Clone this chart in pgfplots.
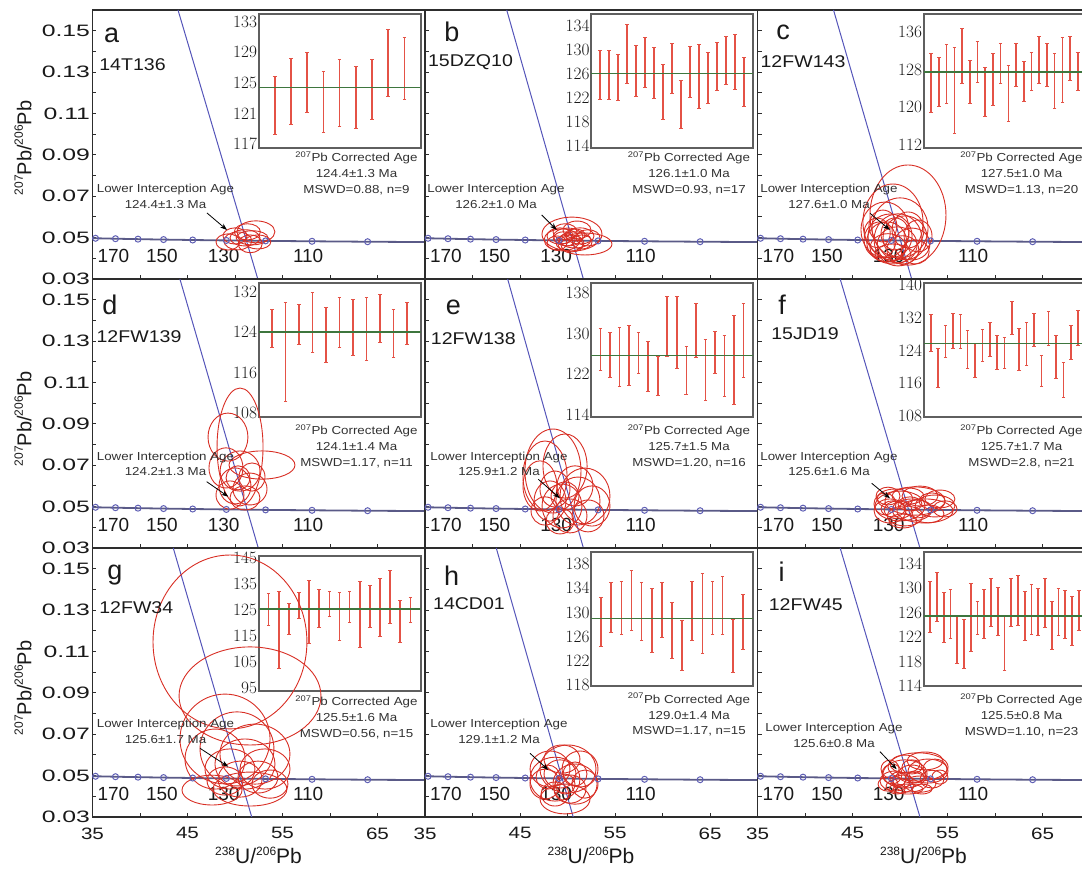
\documentclass[border=0pt]{standalone}
\usepackage{fontspec}
\setmainfont{Liberation Sans}
\newfontfamily\sfs[FakeStretch=1.15]{Liberation Sans}
\newfontfamily\yfs[FakeStretch=1.5]{Liberation Sans}
\newfontfamily\xfs[FakeStretch=1.25]{Liberation Sans}
\usepackage{pgfplots}
\pgfplotsset{compat=1.18}
\usetikzlibrary{arrows.meta}

\definecolor{ellred}{RGB}{216,46,36}
\definecolor{barred}{RGB}{228,82,70}
\definecolor{meangreen}{RGB}{62,118,62}
\definecolor{concl}{RGB}{90,90,135}
\definecolor{markc}{RGB}{95,95,180}
\definecolor{discl}{RGB}{85,85,185}
\definecolor{framec}{RGB}{45,45,45}
\definecolor{insetframe}{RGB}{95,95,95}
\definecolor{txt}{RGB}{25,25,25}
\definecolor{stxt}{RGB}{50,50,50}

\newcommand\fsz[1]{\fontsize{#1}{#1}\selectfont}
\newcommand\sups[1]{\raisebox{0.42em}{\fsz{12}#1}}

\pgfdeclareplotmark{ell}{%
  \pgfpathellipse{\pgfpointorigin}{\pgfpoint{\ellrx*9.5pt}{0pt}}{\pgfpoint{0pt}{\ellry*2069.2pt}}%
  \pgfusepathqstroke}

\pgfplotsset{
  tw/.style={scale only axis, width=332.5pt, height=269pt, anchor=south west,
    xmin=35, xmax=70, ymin=0.03, ymax=0.16,
    axis line style={draw=framec, line width=1.8pt},
    xtick={35,45,55,65}, minor xtick={40,50,60,70},
    ytick={0.03,0.05,0.07,0.09,0.11,0.13,0.15},
    minor ytick={0.04,0.06,0.08,0.10,0.12,0.14},
    scaled y ticks=false, scaled x ticks=false,
    tick pos=left, tick align=inside,
    major tick length=4pt, minor tick length=4pt,
    every tick/.style={draw=framec, line width=1pt},
    /pgf/number format/assume math mode=true,
    yticklabel style={/pgf/number format/fixed, /pgf/number format/fixed zerofill, /pgf/number format/precision=2},
    y tick label style={font=\yfs\fsz{16.5}, text=txt, xshift=1pt},
    x tick label style={font=\xfs\fsz{16.5}, text=txt, yshift=-7pt},
  },
  noxl/.style={xticklabels={}},
  noyl/.style={yticklabels={}},
  ells/.style={only marks, scatter, mark=ell,
    mark options={draw=ellred, line width=0.9pt},
    scatter/@pre marker code/.code={\pgfscope},
    scatter/@post marker code/.code={\endpgfscope},
    visualization depends on={value \thisrow{rx}\as\ellrx},
    visualization depends on={value \thisrow{ry}\as\ellry}},
  disc/.style={discl, line width=1pt},
  inset/.style={scale only axis, width=162pt, height=134.5pt, anchor=south west,
    xmin=0, axis line style={draw=insetframe, line width=2pt},
    xtick=\empty, tick pos=left, major tick length=0pt,
    y tick label style={font=\sfs\fsz{18.5}, text=txt, xshift=2pt},
  },
  bars/.style={draw=none, mark=none, forget plot,
    error bars/.cd, y dir=both, y explicit,
    error bar style={draw=barred, line width=1.6pt},
    error mark options={draw=barred, line width=1pt, mark size=1.8pt, rotate=90}},
  meanline/.style={meangreen, line width=1.5pt},
}

\newcommand\concordia{%
  \addplot[concl, line width=1.8pt, mark=o, mark size=3pt, mark options={draw=markc, fill=white, line width=1pt, solid}]
    coordinates {(33.43,0.04989)(35.32,0.04968)(37.42,0.04947)(39.79,0.04925)(42.48,0.04905)(45.55,0.04884)(49.09,0.04863)(53.22,0.04842)(58.11,0.04822)(63.96,0.04801)(71.13,0.04781)};
  \node[font=\fsz{19}, text=txt] at (axis cs:37.2,0.0413) {170};
  \node[font=\fsz{19}, text=txt] at (axis cs:42.3,0.0413) {150};
  \node[font=\fsz{19}, text=txt] at (axis cs:48.8,0.0413) {130};
  \node[font=\fsz{19}, text=txt] at (axis cs:57.7,0.0413) {110};
}

% #1 letter #2 lx #3 lbase #4 ID #5 idx #6 idy #7 LIA value #8 CA value #9 MSWD
\newcommand\ptext[9]{%
  \node[anchor=base, font=\fsz{27}, text=txt] at (\PX+#2,\PY-#3) {#1};
  \node[font=\sfs\fsz{17}, text=txt] at (\PX+#5,\PY-#6) {#4};
  \node[font=\sfs\fsz{11.6}, text=stxt, inner sep=0pt] at (\PX+\LX,\PY-\LY) {Lower Interception Age};
  \node[font=\sfs\fsz{11.6}, text=stxt, inner sep=0pt] at (\PX+\LX,\PY-\LY-14.5) {#7};
  \node[font=\sfs\fsz{11.6}, text=stxt, inner sep=0pt] at (\PX+264,\PY-\CA) {\textsuperscript{207}Pb Corrected Age};
  \node[font=\sfs\fsz{11.6}, text=stxt, inner sep=0pt] at (\PX+264,\PY-\CA-16) {#8};
  \node[font=\sfs\fsz{11.6}, text=stxt, inner sep=0pt] at (\PX+264,\PY-\CA-32) {#9};
}
\newcommand\parrow[4]{\draw[-{Stealth[length=7pt,width=5pt]}, line width=0.8pt, black] (\PX+#1,\PY-#2) -- (\PX+#3,\PY-#4);}

\begin{document}
\begin{tikzpicture}[x=1pt,y=1pt]

% ================= panel a
\def\PX{92.5}\def\PY{860}
\begin{axis}[inset, at={(258.5pt,721.5pt)}, xmax=10, ymin=116.45, ymax=134.0, ytick={117,121,125,129,133}]
\addplot[bars] table[x=i, y expr={(\thisrow{t}+\thisrow{b})/2}, y error expr={(\thisrow{t}-\thisrow{b})/2}] {
i t b
1 125.85 118.24
2 128.2 119.6
3 129.0 121.2
4 126.5 118.5
5 128.0 119.3
6 127.1 119.1
7 128.0 120.2
8 132.0 123.3
9 130.9 122.8
};
\addplot[meanline] coordinates {(0,124.4)(10,124.4)};
\end{axis}
\begin{axis}[tw, noxl, at={(92.5pt,591pt)}]
\addplot[ells] table {
x y rx ry
52.2 0.0528 2.0 0.0053
50.3 0.0484 1.47 0.0043
51.05 0.0499 1.58 0.0039
51.6 0.0470 1.26 0.0043
49.26 0.0479 1.26 0.0039
51.8 0.0499 1.68 0.0034
50.0 0.0508 1.26 0.0039
52.4 0.0479 1.37 0.0034
51.3 0.0528 1.37 0.0039
};
\addplot[disc] coordinates {(44.0,0.16)(52.4,0.03)};
\concordia
\end{axis}
\def\LX{73}\def\LY{180}\def\CA{148}
\ptext{a}{19.2}{32.7}{14T136}{40}{55}{124.4±1.3 Ma}{124.4±1.3 Ma}{MSWD=0.88, n=9}
\parrow{114.5}{203}{134.5}{220}

% ================= panel b
\def\PX{425}\def\PY{860}
\begin{axis}[inset, at={(591pt,721.5pt)}, xmax=18, ymin=113.6, ymax=136.0, ytick={114,118,122,126,130,134}]
\addplot[bars] table[x=i, y expr={(\thisrow{t}+\thisrow{b})/2}, y error expr={(\thisrow{t}-\thisrow{b})/2}] {
i t b
1 129.9 121.7
2 130.0 121.8
3 129.3 121.6
4 134.3 124.4
5 130.8 122.3
6 132.1 123.8
7 130.4 121.9
8 127.6 118.4
9 131.1 122.7
10 125.0 116.9
11 130.6 122.1
12 130.9 120.2
13 129.6 121.1
14 131.2 123.3
15 132.2 124.2
16 132.6 123.4
17 128.8 120.6
};
\addplot[meanline] coordinates {(0,126.1)(18,126.1)};
\end{axis}
\begin{axis}[tw, noxl, noyl, at={(425pt,591pt)}]
\addplot[ells] table {
x y rx ry
50.47 0.0517 3.16 0.0082
51.84 0.0469 2.84 0.0053
49.42 0.0489 1.89 0.0053
50.05 0.0503 1.58 0.0043
50.79 0.0489 1.68 0.0039
49.21 0.0508 1.37 0.0039
51.32 0.0508 1.47 0.0039
50.26 0.0474 1.47 0.0039
49.74 0.0528 1.26 0.0039
51.0 0.0537 1.47 0.0043
48.9 0.0474 1.05 0.0034
52.16 0.0499 1.26 0.0039
50.47 0.0465 1.16 0.0034
49.53 0.0499 0.95 0.0029
51.53 0.0479 1.05 0.0034
49.95 0.0489 0.84 0.0029
50.79 0.0513 1.05 0.0029
};
\addplot[disc] coordinates {(43.6,0.16)(51.67,0.03)};
\concordia
\end{axis}
\def\LX{71}\def\LY{180}\def\CA{148}
\ptext{b}{27}{31.7}{15DZQ10}{45.5}{51.7}{126.2±1.0 Ma}{126.1±1.0 Ma}{MSWD=0.93, n=17}
\parrow{116.7}{205}{131.7}{220}

% ================= panel c
\def\PX{757.5}\def\PY{860}
\begin{axis}[inset, at={(923.5pt,721.5pt)}, xmax=21, ymin=111.25, ymax=139.9, ytick={112,120,128,136}]
\addplot[bars] table[x=i, y expr={(\thisrow{t}+\thisrow{b})/2}, y error expr={(\thisrow{t}-\thisrow{b})/2}] {
i t b
1 131.5 118.9
2 130.6 120.3
3 133.5 120.9
4 132.8 114.5
5 136.9 125.0
6 130.1 120.9
7 134.0 125.3
8 128.6 118.1
9 131.5 120.5
10 133.6 125.0
11 128.9 116.9
12 133.6 124.4
13 129.8 121.2
14 131.8 123.5
15 135.2 125.0
16 133.6 124.5
17 131.5 119.8
18 134.9 121.0
19 135.2 125.7
20 131.7 123.7
};
\addplot[meanline] coordinates {(0,127.5)(21,127.5)};
\end{axis}
\begin{axis}[tw, noxl, noyl, at={(757.5pt,591pt)}]
\addplot[ells] table {
x y rx ry
50.84 0.0609 4.0 0.0242
49.26 0.0575 3.16 0.0184
48.42 0.0537 2.53 0.0135
50.0 0.0547 2.95 0.0145
48.95 0.0508 2.32 0.0106
50.53 0.0499 2.32 0.0106
47.9 0.0489 1.68 0.0087
49.7 0.0465 2.1 0.0087
51.26 0.0469 1.89 0.0077
48.74 0.0451 1.89 0.0068
50.3 0.0441 1.68 0.0068
49.47 0.0518 1.47 0.0077
51.9 0.0508 1.47 0.0077
48.2 0.0556 1.47 0.0077
50.84 0.0537 1.68 0.0087
47.6 0.0523 1.37 0.0072
49.26 0.0421 1.89 0.0048
51.6 0.0431 1.47 0.0058
49.8 0.0489 2.53 0.0126
48.6 0.0479 2.1 0.0097
};
\addplot[disc] coordinates {(43.0,0.16)(51.23,0.03)};
\concordia
\end{axis}
\def\LX{71.5}\def\LY{180}\def\CA{148}
\ptext{c}{25.5}{30}{12FW143}{45.5}{51.7}{127.6±1.0 Ma}{127.5±1.0 Ma}{MSWD=1.13, n=20}
\parrow{112.5}{203.3}{132.5}{220}

% ================= panel d
\def\PX{92.5}\def\PY{591}
\begin{axis}[inset, at={(258.5pt,452.5pt)}, xmax=12, ymin=107.1, ymax=133.8, ytick={108,116,124,132}]
\addplot[bars] table[x=i, y expr={(\thisrow{t}+\thisrow{b})/2}, y error expr={(\thisrow{t}-\thisrow{b})/2}] {
i t b
1 128.5 121.0
2 130.0 110.2
3 129.5 121.5
4 132.0 120.0
5 129.0 118.0
6 131.0 121.0
7 130.5 119.5
8 131.0 118.5
9 131.5 122.0
10 128.5 119.0
11 130.0 121.5
};
\addplot[meanline] coordinates {(0,124.1)(12,124.1)};
\end{axis}
\begin{axis}[tw, noxl, at={(92.5pt,322pt)}]
\addplot[ells] table {
x y rx ry
50.53 0.0788 2.42 0.0285
49.26 0.0836 2.1 0.0116
52.84 0.0701 3.47 0.0068
49.05 0.0687 1.79 0.0097
50.53 0.0672 2.1 0.0097
50.0 0.0600 1.68 0.0087
51.58 0.0585 1.79 0.0077
49.47 0.0556 1.47 0.0068
51.05 0.0542 1.58 0.0058
50.32 0.0639 1.26 0.0058
51.79 0.0643 1.37 0.0068
};
\addplot[disc] coordinates {(44.2,0.16)(52.45,0.03)};
\concordia
\end{axis}
\def\LX{73}\def\LY{178.5}\def\CA{152}
\ptext{d}{17.5}{36}{12FW139}{46.5}{58}{124.2±1.3 Ma}{124.1±1.4 Ma}{MSWD=1.17, n=11}
\parrow{114.2}{202.7}{135.8}{217.7}

% ================= panel e
\def\PX{425}\def\PY{591}
\begin{axis}[inset, at={(591pt,452.5pt)}, xmax=17, ymin=113.5, ymax=140.0, ytick={114,122,130,138}]
\addplot[bars] table[x=i, y expr={(\thisrow{t}+\thisrow{b})/2}, y error expr={(\thisrow{t}-\thisrow{b})/2}] {
i t b
1 131.0 122.8
2 130.3 121.3
3 131.3 119.6
4 131.6 119.9
5 130.3 122.1
6 128.4 118.7
7 125.6 117.8
8 137.3 125.6
9 137.3 123.2
10 127.4 118.1
11 136.0 125.3
12 128.8 116.9
13 130.5 122.2
14 129.7 117.6
15 133.6 116.0
16 136.0 121.3
};
\addplot[meanline] coordinates {(0,125.7)(17,125.7)};
\end{axis}
\begin{axis}[tw, noxl, noyl, at={(425pt,322pt)}]
\addplot[ells] table {
x y rx ry
48.47 0.0672 2.95 0.0203
47.63 0.0648 2.32 0.0169
49.74 0.0696 2.32 0.0155
47.1 0.0600 1.79 0.0121
51.84 0.0551 2.63 0.0135
51.1 0.0527 2.32 0.0116
49.42 0.0503 2.1 0.0106
52.58 0.0503 1.89 0.0097
48.16 0.0527 1.68 0.0097
50.26 0.0455 1.79 0.0082
48.68 0.0585 1.58 0.0087
50.79 0.0600 1.89 0.0097
49.74 0.0551 1.47 0.0068
47.63 0.0479 1.47 0.0068
52.16 0.0455 1.68 0.0077
49.21 0.0431 1.47 0.0063
};
\addplot[disc] coordinates {(43.7,0.16)(51.67,0.03)};
\concordia
\end{axis}
\def\LX{74}\def\LY{178.5}\def\CA{152}
\ptext{e}{28.3}{36}{12FW138}{48.3}{59.3}{125.9±1.2 Ma}{125.7±1.5 Ma}{MSWD=1.20, n=16}
\parrow{113.3}{200.3}{135}{219.3}

% ================= panel f
\def\PX{757.5}\def\PY{591}
\begin{axis}[inset, at={(923.5pt,452.5pt)}, xmax=22, ymin=107.6, ymax=140.5, ytick={108,116,124,132,140}]
\addplot[bars] table[x=i, y expr={(\thisrow{t}+\thisrow{b})/2}, y error expr={(\thisrow{t}-\thisrow{b})/2}] {
i t b
1 132.8 123.8
2 124.4 114.9
3 130.0 122.2
4 133.1 124.5
5 132.8 124.5
6 129.0 119.7
7 125.6 117.4
8 129.2 121.3
9 130.8 122.6
10 127.7 119.3
11 127.1 119.7
12 136.0 127.9
13 129.3 119.0
14 130.8 120.3
15 133.0 124.9
16 122.7 115.1
17 133.6 125.2
18 127.7 117.2
19 121.0 112.6
20 130.0 121.9
21 133.7 125.3
};
\addplot[meanline] coordinates {(0,125.7)(22,125.7)};
\end{axis}
\begin{axis}[tw, noxl, noyl, at={(757.5pt,322pt)}]
\addplot[ells] table {
x y rx ry
51.58 0.0527 3.16 0.0068
52.63 0.0479 2.95 0.0058
50.0 0.0503 2.63 0.0072
48.95 0.0479 1.68 0.0058
53.68 0.0503 2.1 0.0053
50.53 0.0455 1.89 0.0048
49.47 0.0537 1.89 0.0048
51.9 0.0489 1.47 0.0043
50.84 0.0551 1.68 0.0039
54.2 0.0537 1.58 0.0043
48.42 0.0513 1.16 0.0053
51.26 0.0484 2.1 0.0053
52.95 0.0465 1.68 0.0043
49.79 0.0484 1.47 0.0043
54.74 0.0489 1.26 0.0039
52.1 0.0551 1.89 0.0048
49.26 0.0489 1.26 0.0039
51.05 0.0513 1.26 0.0034
53.37 0.0527 1.37 0.0039
50.32 0.0431 1.47 0.0034
48.74 0.0551 1.26 0.0043
};
\addplot[disc] coordinates {(43.7,0.16)(52.1,0.03)};
\concordia
\end{axis}
\def\LX{71.5}\def\LY{178.5}\def\CA{152}
\ptext{f}{24.5}{36}{15JD19}{47.5}{54.3}{125.6±1.6 Ma}{125.7±1.7 Ma}{MSWD=2.8, n=21}
\parrow{114.2}{204.3}{132.5}{219.3}

% ================= panel g
\def\PX{92.5}\def\PY{322}
\begin{axis}[inset, at={(258.5pt,179pt)}, xmax=16, ymin=94.0, ymax=145.7, ytick={95,105,115,125,135,145}]
\addplot[bars] table[x=i, y expr={(\thisrow{t}+\thisrow{b})/2}, y error expr={(\thisrow{t}-\thisrow{b})/2}] {
i t b
1 131.3 119.1
2 132.1 102.6
3 127.5 115.6
4 131.7 122.0
5 136.4 112.3
6 133.0 118.4
7 132.3 122.8
8 131.7 113.6
9 132.3 120.3
10 136.1 110.8
11 134.6 118.4
12 137.2 114.9
13 140.2 119.9
14 128.8 112.7
15 130.1 120.3
};
\addplot[meanline] coordinates {(0,125.5)(16,125.5)};
\end{axis}
\begin{axis}[tw, at={(92.5pt,53pt)}]
\addplot[ells] table {
x y rx ry
49.47 0.1146 8.1 0.042
51.58 0.0885 7.47 0.0237
48.95 0.0677 4.74 0.0217
50.21 0.0629 3.89 0.0179
52.1 0.0604 3.68 0.0145
47.9 0.0580 3.16 0.0145
51.05 0.0556 3.16 0.0121
53.16 0.0532 2.63 0.0097
49.47 0.0532 2.63 0.0097
47.58 0.0430 3.16 0.0072
51.58 0.0435 3.89 0.0082
50.53 0.0483 2.32 0.0087
52.42 0.0493 2.1 0.0077
48.95 0.0474 1.89 0.0068
53.68 0.0459 1.89 0.0068
};
\addplot[disc] coordinates {(43.5,0.16)(51.76,0.03)};
\concordia
\end{axis}
\def\LX{73}\def\LY{177}\def\CA{153.7}
\ptext{g}{22.5}{32}{12FW34}{43.8}{59.7}{125.6±1.7 Ma}{125.5±1.6 Ma}{MSWD=0.56, n=15}
\parrow{107.5}{200.3}{135.8}{218.7}

% ================= panel h
\def\PX{425}\def\PY{322}
\begin{axis}[inset, at={(591pt,183.5pt)}, xmax=16, ymin=117.75, ymax=140.0, ytick={118,122,126,130,134,138}]
\addplot[bars] table[x=i, y expr={(\thisrow{t}+\thisrow{b})/2}, y error expr={(\thisrow{t}-\thisrow{b})/2}] {
i t b
1 132.5 124.4
2 134.9 126.6
3 135.1 126.4
4 137.0 127.0
5 134.9 125.4
6 133.9 123.4
7 135.0 125.9
8 131.7 122.4
9 128.6 120.4
10 135.2 125.4
11 136.5 123.2
12 135.1 126.4
13 135.9 126.4
14 128.8 120.1
15 132.9 123.9
};
\addplot[meanline] coordinates {(0,129.0)(16,129.0)};
\end{axis}
\begin{axis}[tw, noyl, at={(425pt,53pt)}]
\addplot[ells] table {
x y rx ry
50.05 0.0532 2.95 0.0116
48.68 0.0483 2.63 0.0106
50.79 0.0459 2.32 0.0097
48.16 0.0532 2.1 0.0087
49.74 0.0387 2.63 0.0072
51.32 0.0532 1.89 0.0087
47.63 0.0459 1.58 0.0072
49.21 0.0508 1.68 0.0068
50.26 0.0435 1.68 0.0068
51.84 0.0459 1.37 0.0068
48.68 0.0411 1.47 0.0058
49.42 0.0580 1.89 0.0068
50.79 0.0508 1.26 0.0058
47.95 0.0493 1.26 0.0058
49.74 0.0459 1.05 0.0048
};
\addplot[disc] coordinates {(42.5,0.16)(50.6,0.03)};
\concordia
\end{axis}
\def\LX{74}\def\LY{177}\def\CA{151.3}
\ptext{h}{26.7}{37.7}{14CD01}{44}{55.3}{129.1±1.2 Ma}{129.0±1.4 Ma}{MSWD=1.17, n=15}
\parrow{105}{205.3}{123.3}{222}

% ================= panel i
\def\PX{757.5}\def\PY{322}
\begin{axis}[inset, at={(923.5pt,183.5pt)}, xmax=24, ymin=113.9, ymax=135.97, ytick={114,118,122,126,130,134}]
\addplot[bars] table[x=i, y expr={(\thisrow{t}+\thisrow{b})/2}, y error expr={(\thisrow{t}-\thisrow{b})/2}] {
i t b
1 131.2 122.8
2 132.6 124.6
3 129.4 121.1
4 129.8 121.8
5 125.5 117.6
6 124.9 116.9
7 130.8 119.6
8 127.8 122.5
9 129.8 121.8
10 131.6 123.8
11 130.1 122.2
12 125.5 116.6
13 131.7 123.8
14 132.1 123.9
15 129.5 121.5
16 130.6 122.5
17 129.9 122.3
18 131.7 123.6
19 127.9 120.0
20 129.9 122.3
21 129.7 121.7
22 128.7 120.6
23 129.7 123.1
};
\addplot[meanline] coordinates {(0,125.5)(24,125.5)};
\end{axis}
\begin{axis}[tw, noyl, at={(757.5pt,53pt)}]
\addplot[ells] table {
x y rx ry
51.9 0.0542 3.16 0.0068
52.95 0.0522 2.1 0.0058
50.53 0.0508 2.32 0.0068
49.47 0.0474 1.58 0.0048
51.05 0.0469 1.89 0.0048
50.0 0.0450 1.47 0.0034
52.1 0.0459 1.68 0.0039
51.26 0.0508 1.47 0.0043
49.16 0.0508 1.05 0.0048
53.37 0.0483 1.26 0.0043
50.53 0.0556 1.58 0.0043
52.63 0.0571 1.89 0.0043
48.74 0.0459 1.05 0.0034
50.84 0.0435 1.58 0.0024
49.79 0.0483 0.84 0.0034
51.58 0.0493 0.95 0.0029
53.68 0.0532 1.26 0.0048
48.95 0.0532 0.95 0.0043
50.32 0.0474 1.05 0.0029
52.32 0.0435 1.05 0.0024
51.26 0.0542 1.05 0.0034
49.68 0.0435 0.84 0.0024
54.2 0.0493 0.84 0.0034
};
\addplot[disc] coordinates {(43.7,0.16)(52.1,0.03)};
\concordia
\end{axis}
\def\LX{76.5}\def\LY{181}\def\CA{152}
\ptext{i}{24}{33.7}{12FW45}{48.3}{57}{125.6±0.8 Ma}{125.5±0.8 Ma}{MSWD=1.10, n=23}
\parrow{122.5}{203.7}{139.2}{221.3}

% ================= axis labels
\foreach \yy in {722,451,182}{
  \node[rotate=90, font=\fsz{20}, text=txt] at (23,\yy) {\sups{207}Pb/\sups{206}Pb};
}
\foreach \xx in {92.5,425,757.5}{
  \node[anchor=base, font=\fsz{21}, text=txt] at (\xx+166,6) {\sups{238}U/\sups{206}Pb};
}
\pgfresetboundingbox
\path[use as bounding box] (0,0) rectangle (1082,870);
\end{tikzpicture}
\end{document}
